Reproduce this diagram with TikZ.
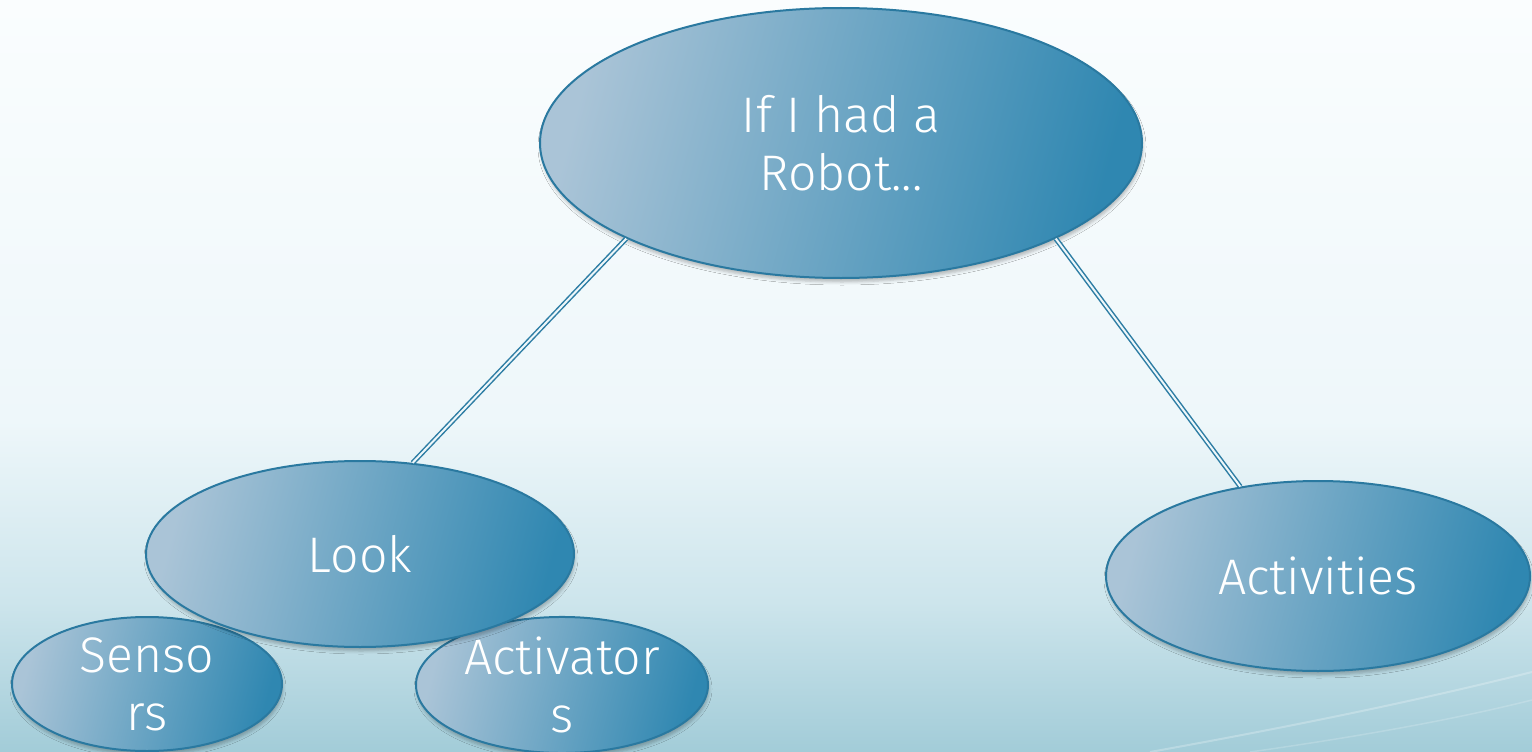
\documentclass[tikz,border=0pt]{standalone}
\usepackage{fontspec}
\setmainfont{Fira Sans}[UprightFont={* Light}]
\usetikzlibrary{shapes.geometric,shadows.blur}

\definecolor{bgtop}{HTML}{FAFDFE}
\definecolor{bgmid}{HTML}{EEF7FA}
\definecolor{bglow}{HTML}{CDE5EC}
\definecolor{bgbot}{HTML}{A2CCD8}
\definecolor{bubblelight}{HTML}{AAC4D7}
\definecolor{bubbledark}{HTML}{2F87B1}
\definecolor{bubbleedge}{HTML}{2A79A0}
\definecolor{linkcol}{HTML}{2D7DA4}

% page background: near white at the top, pale teal towards the bottom
\pgfdeclareverticalshading{pagebg}{100bp}{%
  color(0bp)=(bgbot); color(25bp)=(bgbot); color(35bp)=(bglow);
  color(47bp)=(bgmid); color(75bp)=(bgtop); color(100bp)=(bgtop)}

\tikzset{
  bubble/.style={
    ellipse, draw=bubbleedge, line width=2pt, inner sep=0pt,
    shading=axis, top color=bubblelight, bottom color=bubbledark,
    shading angle=75,
    blur shadow={shadow xshift=1pt, shadow yshift=-4pt,
                 shadow blur radius=3pt, shadow opacity=25},
    text=white, align=center,
    font=\fontsize{50}{58}\selectfont},
  link/.style={draw=linkcol, line width=1.5pt, double=bgmid,
               double distance=2pt}
}

\begin{document}
\begin{tikzpicture}[x=1pt, y=-1pt]
  \useasboundingbox (0,0) rectangle (1532,752);
  \shade[shading=pagebg] (0,0) rectangle (1532,752);
  % faint light streaks in the lower right corner
  \draw[white, opacity=0.25, line width=2pt]
    (1150,752) .. controls (1300,725) and (1420,700) .. (1532,672);
  \draw[white, opacity=0.18, line width=1.5pt]
    (1250,752) .. controls (1370,735) and (1460,718) .. (1532,700);

  \node[bubble, minimum width=602pt, minimum height=270pt]
    (robot) at (841,143) {If I had a\\Robot...};
  \node[bubble, minimum width=270pt, minimum height=134pt]
    (sensors) at (147,684) {Senso\\rs};
  \node[bubble, minimum width=292pt, minimum height=135pt]
    (activators) at (562,685) {Activator\\s};
  \node[bubble, minimum width=428pt, minimum height=186pt]
    (look) at (360,554) {Look};
  \node[bubble, minimum width=424pt, minimum height=190pt]
    (activities) at (1318,576) {Activities};

  \draw[link] (robot.204) -- (look.60);
  \draw[link] (robot.336) -- (activities.131);
\end{tikzpicture}
\end{document}
